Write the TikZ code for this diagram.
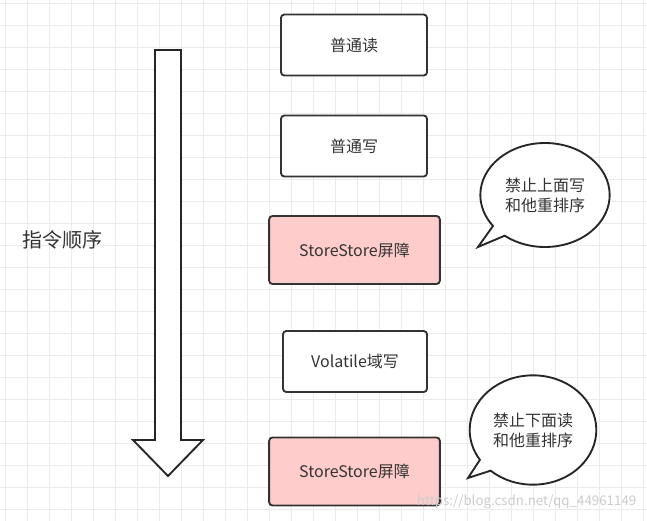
\documentclass[tikz,border=0pt]{standalone}
\usepackage{fontspec}
\setmainfont{Noto Sans CJK SC}
\usetikzlibrary{shapes.callouts}
\definecolor{pinkf}{HTML}{FFCCCC}
\definecolor{txt}{HTML}{333333}
\begin{document}
\begin{tikzpicture}[x=0.75pt,y=-0.75pt,
  box/.style={draw=black!80,line width=1.4pt,rounded corners=2.5pt,fill=white,text=txt,font=\fontsize{12}{14}\selectfont},
  bub/.style={ellipse callout,draw=black!85,line width=1.4pt,fill=white,text=txt,align=center,font=\fontsize{12}{15}\selectfont,inner sep=0pt}]
\useasboundingbox (0,0) rectangle (647,521);
\fill[white] (0,0) rectangle (647,521);
\foreach \i in {0,...,30}{\draw[black!8,line width=0.5pt] (\i*22+5,0) -- (\i*22+5,521);}
\foreach \i in {0,...,24}{\draw[black!8,line width=0.5pt] (0,\i*22+3) -- (647,\i*22+3);}
\node[box,minimum width=109.5pt,minimum height=45.75pt] (r) at (354,45) {普通读};
\node[box,minimum width=109.5pt,minimum height=45.75pt] (w) at (354,146) {普通写};
\node[box,fill=pinkf,minimum width=128pt,minimum height=51pt] (b1) at (354.5,250) {StoreStore屏障};
\node[box,minimum width=108pt,minimum height=45.75pt] (v) at (355,361.5) {Volatile域写};
\node[box,fill=pinkf,minimum width=128pt,minimum height=51pt] (b2) at (354.5,471.5) {StoreStore屏障};
\node[text=txt,font=\fontsize{15}{18}\selectfont] (t) at (62,240) {指令顺序};
\draw[black!85,line width=1.4pt,fill=white,line join=miter] (155,50) -- (181,50) -- (181,440) -- (203,440) -- (168,476) -- (133,440) -- (155,440) -- cycle;
\node[bub,minimum width=97pt,minimum height=78pt,callout absolute pointer={(478,247)}] (c1) at (545,195) {禁止上面写\\和他重排序};
\node[bub,minimum width=95pt,minimum height=82pt,callout absolute pointer={(468,478)}] (c2) at (533,430) {禁止下面读\\和他重排序};
\node[text=black!20,font=\fontsize{10}{12}\selectfont,anchor=east] (wm) at (641,502) {https://blog.csdn.net/qq\_44961149};
\end{tikzpicture}
\end{document}
